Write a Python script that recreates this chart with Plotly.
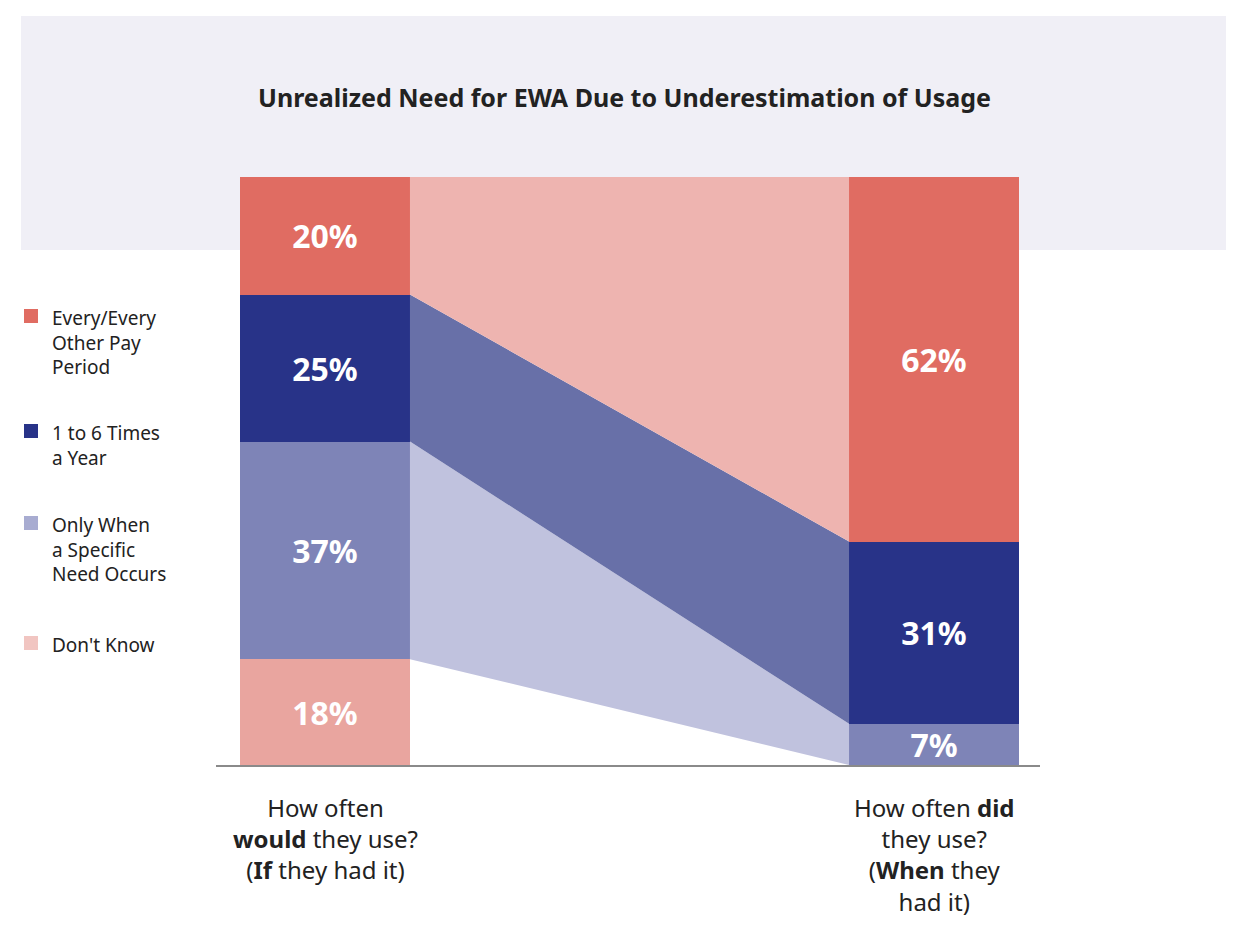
import plotly.graph_objects as go

# ---- data ----
categories = ["Don't Know", "Only When a Specific Need Occurs", "1 to 6 Times a Year", "Every/Every Other Pay Period"]
legend_labels = ["Every/Every<br>Other Pay<br>Period", "1 to 6 Times<br>a Year", "Only When<br>a Specific<br>Need Occurs", "Don't Know"]
would_use = [18, 37, 25, 20]   # bottom -> top
did_use = [0, 7, 31, 62]        # bottom -> top
x_labels = ["How often<br><b>would</b> they use?<br>(<b>If</b> they had it)",
            "How often <b>did</b><br>they use?<br>(<b>When</b> they<br>had it)"]
title_text = "Unrealized Need for EWA Due to Underestimation of Usage"

bar_colors = ["#e9a59f", "#7e84b7", "#283388", "#e06c62"]
flow_colors = [None, "#c0c2de", "#6870a8", "#eeb4b0"]
legend_colors = ["#e06c62", "#283388", "#a8acd1", "#f1c5c1"]

FONT = "Noto Sans"
OFF = 8  # page body margin
W, H = 1248 - OFF, 950 - OFF
L, T = 216 - OFF, 177 - OFF
R = W - (1040 - OFF)
B = H - (765 - OFF)
pw, ph = W - L - R, H - T - B

def pxx(p):
    return (p - 216) / pw

def pxy(p):
    return (765 - p) / ph

bw = 0.279
fig = go.Figure()

def cum(vals):
    out, s = [], 0
    for v in vals:
        out.append((s, s + v))
        s += v
    return out

lc, rc = cum(would_use), cum(did_use)
for i in range(len(categories)):
    if flow_colors[i] is None or did_use[i] == 0:
        continue
    xs = [bw / 2, 1 - bw / 2, 1 - bw / 2, bw / 2, bw / 2]
    ys = [lc[i][0], rc[i][0], rc[i][1], lc[i][1], lc[i][0]]
    fig.add_trace(go.Scatter(x=xs, y=ys, fill="toself", fillcolor=flow_colors[i],
                             line=dict(width=0), mode="lines", hoverinfo="skip", showlegend=False))

for i, c in enumerate(categories):
    vals = [would_use[i], did_use[i]]
    txt = [f"<b>{v}%</b>" if v else "" for v in vals]
    fig.add_trace(go.Bar(x=[0, 1], y=vals, width=bw, marker=dict(color=bar_colors[i], line=dict(width=0)),
                         text=txt, textposition="inside", insidetextanchor="middle",
                         constraintext="none", textangle=0,
                         textfont=dict(family=FONT, size=32, color="white"),
                         name=c, showlegend=False))

annotations = []
shapes = []
shapes.append(dict(type="rect", xref="paper", yref="paper", x0=pxx(21), x1=pxx(1226),
                   y0=pxy(250), y1=pxy(16), fillcolor="#f0eff6", line=dict(width=0), layer="below"))
annotations.append(dict(text=f"<b>{title_text}</b>", xref="paper", yref="paper", x=pxx(624), y=pxy(97),
                        xanchor="center", yanchor="middle",
                        showarrow=False, font=dict(family=FONT, size=25, color="#222222")))
for xi, lab in enumerate(x_labels):
    annotations.append(dict(text=lab, xref="x", yref="paper", x=xi, y=pxy(789), yanchor="top",
                            showarrow=False, align="center",
                            font=dict(family=FONT, size=24, color="#222222")))
leg_y = [316, 431, 523, 643]
for lab, col, y in zip(legend_labels, legend_colors, leg_y):
    shapes.append(dict(type="rect", xref="paper", yref="paper", x0=pxx(24), x1=pxx(38),
                       y0=pxy(y + 7), y1=pxy(y - 7), fillcolor=col, line=dict(width=0)))
    annotations.append(dict(text=lab, xref="paper", yref="paper", x=pxx(50), y=pxy(y - 13),
                            xanchor="left", yanchor="top", align="left", showarrow=False,
                            font=dict(family=FONT, size=19, color="#222222")))

fig.update_layout(
    width=W, height=H, margin=dict(l=L, r=R, t=T, b=B, autoexpand=False),
    barmode="stack", paper_bgcolor="white", plot_bgcolor="rgba(0,0,0,0)",
    xaxis=dict(range=[-(325 - 216) / 609, 1 + (1040 - 934) / 609], showline=True, linecolor="#8a8a8a",
               linewidth=2, showgrid=False, zeroline=False, showticklabels=False, ticks="", fixedrange=True),
    yaxis=dict(range=[0, 100], showgrid=False, zeroline=False, showticklabels=False, ticks="", showline=False),
    shapes=shapes, annotations=annotations, showlegend=False,
)

fig.write_html("out.html")
